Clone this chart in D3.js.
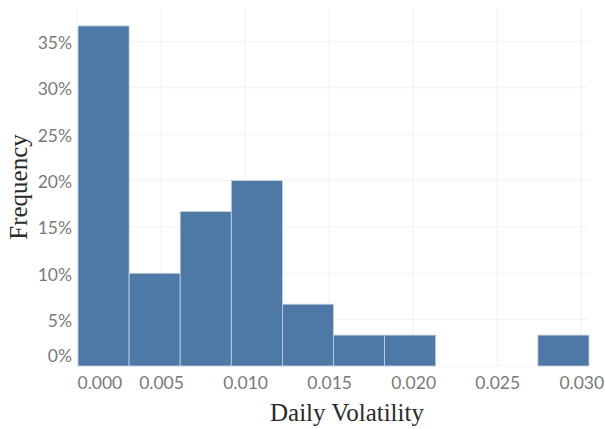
<!DOCTYPE html>
<html>
<head>
<meta charset="utf-8">
<script src="https://cdn.jsdelivr.net/npm/d3@7"></script>
<style>
  body { margin: 0; background: #fff; }
  .tick text { font-family: Lato, sans-serif; font-size: 17.5px; fill: #7a7a7a; }
  .title { font-family: "Liberation Serif", "Times New Roman", serif; font-size: 25px; fill: #2a2a2a; }
</style>
</head>
<body>
<svg></svg>
<script>
// histogram bins (left edges) and share of days in each bin
var binStart = [0.00006, 0.0031, 0.00614, 0.00918, 0.01222, 0.01526, 0.0183, 0.02134, 0.02438, 0.02742];
var binWidth = 0.00304;
var freq = [11 / 30, 3 / 30, 5 / 30, 6 / 30, 2 / 30, 1 / 30, 1 / 30, 0, 0, 1 / 30];
var xTicks = [0, 0.005, 0.01, 0.015, 0.02, 0.025, 0.03];
var yTicks = [0, 0.05, 0.1, 0.15, 0.2, 0.25, 0.3, 0.35];

var svg = d3.select("svg").attr("width", 605).attr("height", 429);

var margin = { top: 8, right: 16, bottom: 63, left: 78 },
  width = 605 - margin.left - margin.right,
  height = 429 - margin.top - margin.bottom;

var xScale = d3.scaleLinear().domain([0.00006, 0.03046]).range([0, width]);
var yScale = d3.scaleLinear().domain([0, 0.386]).range([height, 0]);

var g = svg.append("g").attr("transform", "translate(" + margin.left + "," + margin.top + ")");

// grid
g.append("g")
  .selectAll("line.h")
  .data(yTicks)
  .enter()
  .append("line")
  .attr("x1", 0)
  .attr("x2", width)
  .attr("y1", function(d) { return yScale(d); })
  .attr("y2", function(d) { return yScale(d); })
  .attr("stroke", "#f2f2f2");

g.append("g")
  .selectAll("line.v")
  .data(xTicks)
  .enter()
  .append("line")
  .attr("x1", function(d) { return xScale(d); })
  .attr("x2", function(d) { return xScale(d); })
  .attr("y1", 0)
  .attr("y2", height)
  .attr("stroke", "#f2f2f2");

// bars
g.selectAll(".bar")
  .data(freq)
  .enter()
  .append("rect")
  .attr("class", "bar")
  .attr("x", function(d, i) { return xScale(binStart[i]); })
  .attr("width", function(d, i) { return xScale(binStart[i] + binWidth) - xScale(binStart[i]); })
  .attr("y", function(d) { return yScale(d); })
  .attr("height", function(d) { return height - yScale(d); })
  .attr("fill", "#4e78a6")
  .attr("stroke", function(d) { return d > 0 ? "#c9d3e0" : "none"; })
  .attr("stroke-width", 0.8);

// x axis
var xAxis = g.append("g")
  .attr("transform", "translate(0," + height + ")")
  .call(d3.axisBottom(xScale).tickValues(xTicks).tickFormat(d3.format(".3f")).tickSize(0).tickPadding(11));
xAxis.select(".domain").remove();
xAxis.selectAll(".tick text").filter(function(d) { return d === 0; }).attr("text-anchor", "start");

// y axis
var yAxis = g.append("g")
  .call(d3.axisLeft(yScale).tickValues(yTicks).tickFormat(d3.format(".0%")).tickSize(0).tickPadding(6));
yAxis.select(".domain").remove();
yAxis.selectAll(".tick text").attr("dy", "0.4em");
yAxis.selectAll(".tick text").filter(function(d) { return d === 0; }).attr("dy", "-0.25em");

// axis titles
svg.append("text")
  .attr("class", "title")
  .attr("x", 347)
  .attr("y", 421)
  .attr("text-anchor", "middle")
  .text("Daily Volatility");

svg.append("text")
  .attr("class", "title")
  .attr("transform", "translate(27," + (margin.top + height / 2) + ") rotate(-90)")
  .attr("text-anchor", "middle")
  .text("Frequency");
</script>
</body>
</html>
